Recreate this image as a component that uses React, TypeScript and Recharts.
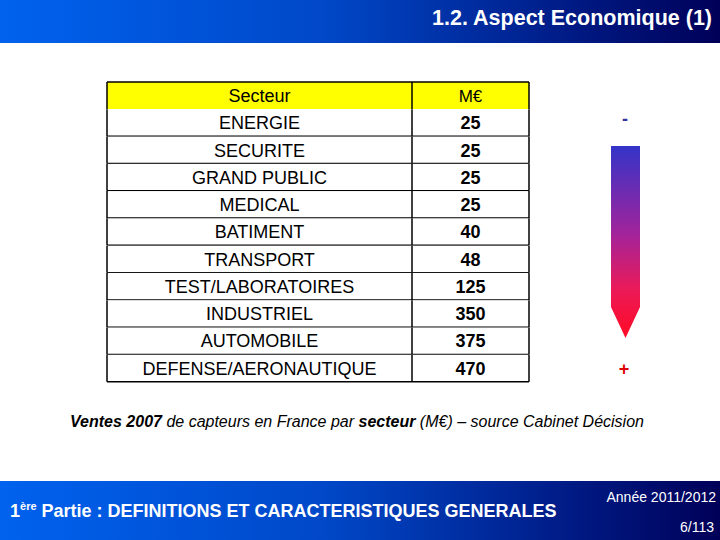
import React from 'react'
import { BarChart, Bar, XAxis, YAxis } from 'recharts'

// Ventes 2007 de capteurs en France par secteur (M€)
const HEADER = ['Secteur', 'M€']
const SECTEURS = [
  'ENERGIE',
  'SECURITE',
  'GRAND PUBLIC',
  'MEDICAL',
  'BATIMENT',
  'TRANSPORT',
  'TEST/LABORATOIRES',
  'INDUSTRIEL',
  'AUTOMOBILE',
  'DEFENSE/AERONAUTIQUE',
]
const VENTES = [25, 25, 25, 25, 40, 48, 125, 350, 375, 470]

const FONT = '"Liberation Sans", Arial, sans-serif'
const BAND = 'linear-gradient(to right, #0062ee 0%, #0048c8 45%, #00208e 75%, #000058 100%)'
const COL_RATIO = 305 / 422

const rows = [
  { secteur: HEADER[0], valeur: HEADER[1], header: true, span: 1 },
  ...SECTEURS.map((s, i) => ({ secteur: s, valeur: String(VENTES[i]), header: false, span: 1 })),
]

// one bar per row spanning the whole table width; draws both cells
function RowCells(props: any) {
  const { x, y, width, height, payload, index } = props
  const colW = width * COL_RATIO
  const header = payload.header
  const cy = y + height / 2 + 0.5
  return (
    <g>
      <rect x={x} y={y} width={width} height={height} fill={header ? '#ffff00' : '#ffffff'} />
      {index === 0 && <line x1={x} x2={x + width} y1={y} y2={y} stroke="#000" strokeWidth={1.5} />}
      {!header && <line x1={x} x2={x + width} y1={y + height} y2={y + height} stroke="#000" strokeWidth={1.5} />}
      <line x1={x} x2={x} y1={y} y2={y + height} stroke="#000" strokeWidth={1.5} />
      <line x1={x + colW} x2={x + colW} y1={y} y2={y + height} stroke="#000" strokeWidth={1.5} />
      <line x1={x + width} x2={x + width} y1={y} y2={y + height} stroke="#000" strokeWidth={1.5} />
      <text x={x + colW / 2} y={cy} textAnchor="middle" dominantBaseline="central"
        fontFamily={FONT} fontSize={18} fill="#000">
        {payload.secteur}
      </text>
      <text x={x + colW + (width - colW) / 2} y={cy} textAnchor="middle" dominantBaseline="central"
        fontFamily={FONT} fontSize={header ? 17 : 18} fontWeight={header ? 'normal' : 'bold'} fill="#000">
        {payload.valeur}
      </text>
    </g>
  )
}

export default function App() {
  return (
    <div style={{ position: 'absolute', left: 0, top: 0, width: 720, height: 540, background: '#fff', overflow: 'hidden', fontFamily: FONT }}>
      {/* bandeau titre */}
      <div style={{ position: 'absolute', left: 0, top: 0, width: 720, height: 43, background: BAND }} />
      <div style={{ position: 'absolute', right: 8, top: 6, color: '#fff', fontSize: 21.5, fontWeight: 'bold', whiteSpace: 'nowrap' }}>
        1.2. Aspect Economique (1)
      </div>

      {/* tableau */}
      <div style={{ position: 'absolute', left: 106, top: 81 }}>
        <BarChart
          layout="vertical"
          width={424}
          height={302}
          data={rows}
          margin={{ top: 1, right: 1, bottom: 1, left: 1 }}
          barCategoryGap={0}
        >
          <XAxis type="number" domain={[0, 1]} hide />
          <YAxis type="category" dataKey="secteur" hide />
          <Bar dataKey="span" isAnimationActive={false} shape={<RowCells />} />
        </BarChart>
      </div>

      {/* flèche - / + */}
      <svg width={720} height={540} style={{ position: 'absolute', left: 0, top: 0, pointerEvents: 'none' }}>
        <defs>
          <linearGradient id="fleche" x1="0" y1="0" x2="0" y2="1">
            <stop offset="0%" stopColor="#3434c8" />
            <stop offset="45%" stopColor="#a0249c" />
            <stop offset="75%" stopColor="#ec1a58" />
            <stop offset="100%" stopColor="#ff0a24" />
          </linearGradient>
        </defs>
        <polygon points="611,146 640,146 640,307 625.5,338 611,307" fill="url(#fleche)" />
        <text x={625} y={119} textAnchor="middle" dominantBaseline="central" fontFamily={FONT} fontSize={18} fontWeight="bold" fill="#333399">-</text>
        <text x={624} y={369} textAnchor="middle" dominantBaseline="central" fontFamily={FONT} fontSize={18} fontWeight="bold" fill="#dd0000">+</text>
      </svg>

      {/* légende */}
      <div style={{ position: 'absolute', left: 0, width: 714, top: 413, textAlign: 'center', fontSize: 16, fontStyle: 'italic', color: '#000', whiteSpace: 'nowrap' }}>
        <b>Ventes 2007</b> de capteurs en France par <b>secteur</b> (M€) – source Cabinet Décision
      </div>

      {/* bandeau bas */}
      <div style={{ position: 'absolute', left: 0, top: 481, width: 720, height: 59, background: BAND }} />
      <div style={{ position: 'absolute', left: 10, top: 500, color: '#fff', fontSize: 18, fontWeight: 'bold', whiteSpace: 'nowrap' }}>
        1<sup style={{ fontSize: 11 }}>ère</sup> Partie : DEFINITIONS ET CARACTERISTIQUES GENERALES
      </div>
      <div style={{ position: 'absolute', right: 4, top: 489, color: '#fff', fontSize: 14, whiteSpace: 'nowrap' }}>
        Année 2011/2012
      </div>
      <div style={{ position: 'absolute', right: 6, top: 519, color: '#fff', fontSize: 14, whiteSpace: 'nowrap' }}>
        6/113
      </div>
    </div>
  )
}
